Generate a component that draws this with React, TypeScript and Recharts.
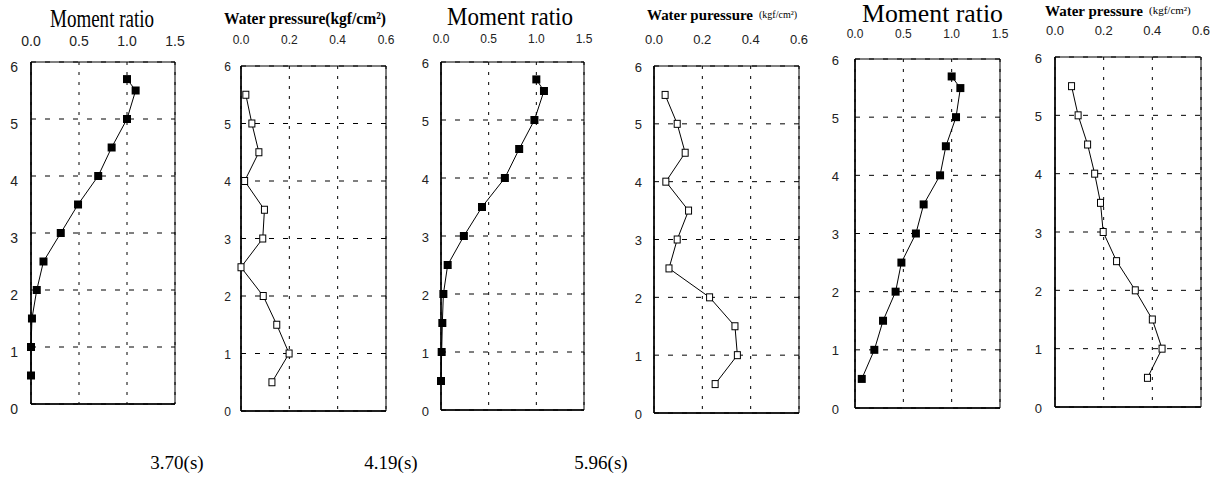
import React from "react"
import { ScatterChart, Scatter, XAxis, YAxis, CartesianGrid, ReferenceArea, ReferenceLine } from "recharts"

const W = 1213
const H = 477

// depth (m) of each gauge, top to bottom
const momentDepths = [5.7, 5.5, 5.0, 4.5, 4.0, 3.5, 3.0, 2.5, 2.0, 1.5, 1.0, 0.5]
const waterDepths = [5.5, 5.0, 4.5, 4.0, 3.5, 3.0, 2.5, 2.0, 1.5, 1.0, 0.5]

const depthTicks = [0, 1, 2, 3, 4, 5, 6]
const momentTicks = [0, 0.5, 1.0, 1.5]
const waterTicks = [0, 0.2, 0.4, 0.6]

// period 3.70 s
const moment370 = [1.0, 1.09, 1.0, 0.84, 0.7, 0.49, 0.31, 0.13, 0.06, 0.01, 0.0, 0.0]
const water370 = [0.02, 0.045, 0.074, 0.015, 0.097, 0.09, 0.0, 0.092, 0.148, 0.199, 0.128]
// period 4.19 s
const moment419 = [1.0, 1.08, 0.98, 0.82, 0.67, 0.43, 0.24, 0.07, 0.025, 0.014, 0.007, 0.0]
const water419 = [0.046, 0.096, 0.129, 0.049, 0.143, 0.096, 0.062, 0.23, 0.335, 0.345, 0.253]
// period 5.96 s
const moment596 = [1.0, 1.09, 1.045, 0.94, 0.88, 0.71, 0.63, 0.48, 0.42, 0.29, 0.2, 0.07]
const water596 = [0.068, 0.095, 0.134, 0.163, 0.187, 0.198, 0.253, 0.33, 0.4, 0.44, 0.38]

const periodLabels = ["3.70(s)", "4.19(s)", "5.96(s)"]

const sans = "'Liberation Sans', Arial, sans-serif"
const serif = "'Liberation Serif', 'Times New Roman', serif"

type PanelCfg = {
  values: number[]
  depths: number[]
  xTicks: number[]
  filled: boolean
  left: number
  right: number
  top: number
  bottom: number
  xFont: number
  xMargin: number
  yFont: number
  yMargin: number
  yDy: number
}

const panels: PanelCfg[] = [
  { values: moment370, depths: momentDepths, xTicks: momentTicks, filled: true, left: 31, right: 175, top: 62, bottom: 404, xFont: 14, xMargin: 16, yFont: 14, yMargin: 13, yDy: 5 },
  { values: water370, depths: waterDepths, xTicks: waterTicks, filled: false, left: 241, right: 386, top: 66, bottom: 411, xFont: 12, xMargin: 22, yFont: 12, yMargin: 10, yDy: 1 },
  { values: moment419, depths: momentDepths, xTicks: momentTicks, filled: true, left: 441, right: 584, top: 62, bottom: 410, xFont: 12, xMargin: 19, yFont: 13, yMargin: 12, yDy: 1 },
  { values: water419, depths: waterDepths, xTicks: waterTicks, filled: false, left: 654, right: 799, top: 66, bottom: 413, xFont: 13, xMargin: 22, yFont: 13, yMargin: 12, yDy: 1 },
  { values: moment596, depths: momentDepths, xTicks: momentTicks, filled: true, left: 855, right: 1000, top: 59, bottom: 408, xFont: 12, xMargin: 21, yFont: 13, yMargin: 16, yDy: 1 },
  { values: water596, depths: waterDepths, xTicks: waterTicks, filled: false, left: 1055, right: 1201, top: 57, bottom: 407, xFont: 13, xMargin: 22, yFont: 13, yMargin: 13, yDy: 1 },
]

const FilledSquare = (p: any) => (
  <rect x={p.cx - 4} y={p.cy - 4} width={8} height={8} fill="#000" />
)

const HollowSquare = (p: any) => (
  <rect x={p.cx - 3} y={p.cy - 3.5} width={6} height={7} fill="#fff" stroke="#000" strokeWidth={1} />
)

function Panel({ cfg }: { cfg: PanelCfg }) {
  const data = cfg.values.map((v, i) => ({ x: v, y: cfg.depths[i] }))
  const xMax = cfg.xTicks[cfg.xTicks.length - 1]
  return (
    <div style={{ position: "absolute", left: 0, top: 0 }}>
      <ScatterChart
        width={W}
        height={H}
        margin={{ top: cfg.top - 1, left: cfg.left - 1, right: W - cfg.right, bottom: H - cfg.bottom }}
      >
        <CartesianGrid horizontal vertical={false} stroke="#000" strokeDasharray="5 9" />
        <CartesianGrid horizontal={false} vertical stroke="#000" strokeDasharray="3 7" />
        <XAxis
          type="number"
          dataKey="x"
          orientation="top"
          domain={[0, xMax]}
          ticks={cfg.xTicks}
          interval={0}
          height={1}
          axisLine={false}
          tickLine={false}
          tickSize={0}
          tickMargin={cfg.xMargin}
          tick={(p: any) => (
            <text x={p.x} y={p.y} textAnchor="middle" fontSize={cfg.xFont} fontFamily={sans} fill="#222">
              {Number(p.payload.value).toFixed(1)}
            </text>
          )}
        />
        <YAxis
          type="number"
          dataKey="y"
          domain={[0, 6]}
          ticks={depthTicks}
          interval={0}
          width={1}
          axisLine={false}
          tickLine={false}
          tickSize={0}
          tickMargin={cfg.yMargin}
          tick={(p: any) => (
            <text
              x={p.x}
              y={p.y + cfg.yDy}
              textAnchor="end"
              dominantBaseline="central"
              fontSize={cfg.yFont}
              fontFamily={sans}
              fill="#222"
            >
              {p.payload.value}
            </text>
          )}
        />
        <ReferenceArea x1={0} x2={xMax} y1={0} y2={6} fill="none" stroke="#000" strokeWidth={1} />
        <ReferenceLine x={0} stroke="#000" strokeWidth={1.5} />
        <ReferenceLine y={0} stroke="#000" strokeWidth={1.5} />
        <Scatter
          data={data}
          line={{ stroke: "#000", strokeWidth: 1 }}
          lineType="joint"
          shape={cfg.filled ? FilledSquare : HollowSquare}
          isAnimationActive={false}
        />
      </ScatterChart>
    </div>
  )
}

export default function App() {
  return (
    <div style={{ position: "absolute", left: 0, top: 0, width: W, height: H, background: "#fff" }}>
      {panels.map((cfg, i) => (
        <Panel key={i} cfg={cfg} />
      ))}
      <svg width={W} height={H} style={{ position: "absolute", left: 0, top: 0, pointerEvents: "none" }}>
        {/* panel titles */}
        <text x={50} y={27} fontSize={26} fontFamily={serif} textLength={104} lengthAdjust="spacingAndGlyphs">
          Moment ratio
        </text>
        <text x={224} y={24} fontSize={17} fontWeight="bold" fontFamily={serif} textLength={162} lengthAdjust="spacingAndGlyphs">
          Water pressure(kgf/cm²)
        </text>
        <text x={447} y={25} fontSize={25} fontFamily={serif} textLength={126} lengthAdjust="spacingAndGlyphs">
          Moment ratio
        </text>
        <text x={647} y={20} fontSize={15} fontWeight="bold" fontFamily={serif} textLength={106} lengthAdjust="spacingAndGlyphs">
          Water puressure
        </text>
        <text x={759} y={18} fontSize={10} fontFamily={serif}>
          (kgf/cm²)
        </text>
        <text x={862} y={22} fontSize={26} fontFamily={serif} textLength={141} lengthAdjust="spacingAndGlyphs">
          Moment ratio
        </text>
        <text x={1045} y={16} fontSize={15} fontWeight="bold" fontFamily={serif} textLength={98} lengthAdjust="spacingAndGlyphs">
          Water pressure
        </text>
        <text x={1149} y={14} fontSize={11} fontFamily={serif}>
          (kgf/cm²)
        </text>
        {/* wave periods */}
        {periodLabels.map((t, i) => (
          <text key={t} x={[177, 391, 601][i]} y={469} textAnchor="middle" fontSize={19} fontFamily={serif}>
            {t}
          </text>
        ))}
      </svg>
    </div>
  )
}
